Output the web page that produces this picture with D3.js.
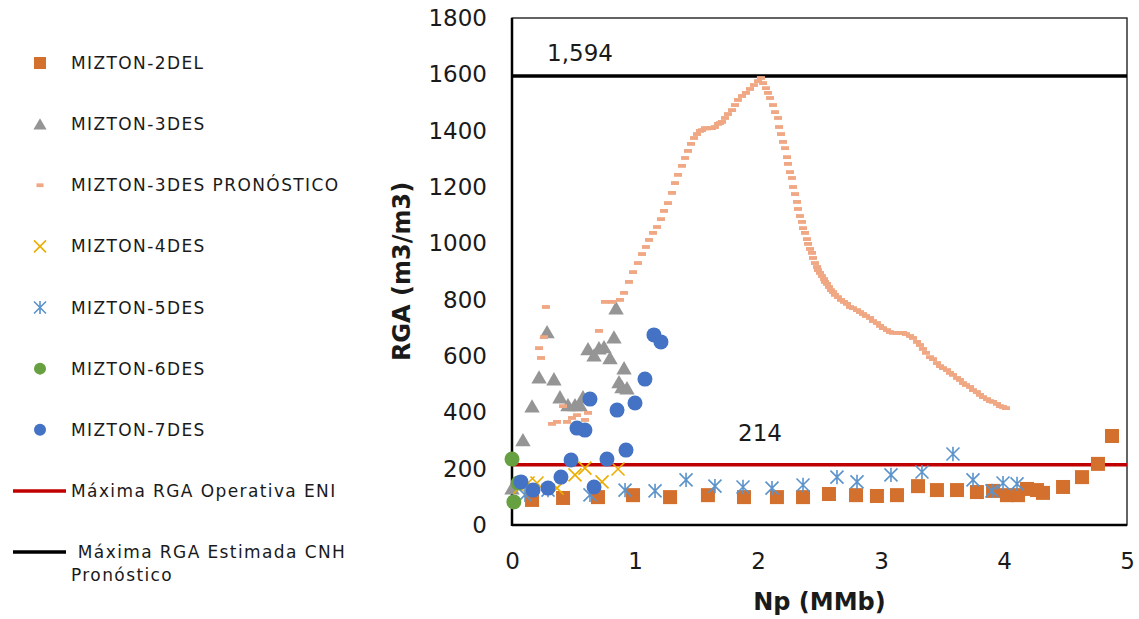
<!DOCTYPE html>
<html>
<head>
<meta charset="utf-8">
<script src="https://cdn.jsdelivr.net/npm/d3@7"></script>
<style>
body { margin: 0; background: #fff; }
text { font-family: "DejaVu Sans", sans-serif; fill: #1a1a1a; }
</style>
</head>
<body>
<svg id="chart"></svg>
<script>
// Np (MMb), RGA (m3/m3)
var mizton2DEL = [[0.163,89],[0.415,96],[0.699,99],[0.984,106],[1.285,99],[1.593,106],[1.886,99],[2.154,99],
  [2.366,99],[2.577,110],[2.797,106],[2.967,103],[3.130,106],[3.301,138],[3.455,124],[3.618,124],[3.780,117],
  [3.911,121],[4.024,106],[4.114,106],[4.187,128],[4.268,124],[4.317,114],[4.480,135],[4.634,170],[4.764,217],[4.878,316]];

var mizton3DES = [[0.0,131],[0.089,302],[0.163,422],[0.220,525],[0.285,685],[0.341,518],[0.390,454],[0.455,426],
  [0.512,426],[0.553,426],[0.577,454],[0.618,625],[0.667,603],[0.707,628],[0.748,632],[0.797,593],[0.829,667],
  [0.846,770],[0.870,508],[0.894,490],[0.911,557],[0.935,486]];

var mizton3DESPron = [[0.220,628],[0.236,593],[0.260,667],[0.276,774],[0.325,359],[0.366,366],[0.415,422],[0.447,366],
  [0.488,380],[0.528,390],[0.593,373],[0.618,398],[0.707,689],[0.756,792],[0.813,792],[0.878,799],[0.911,824],
  [0.951,863],[0.984,898],[1.024,930],[1.057,962],[1.089,987],[1.114,1012],[1.146,1037],[1.179,1058],[1.211,1086],
  [1.236,1115],[1.268,1143],[1.301,1179],[1.325,1214],[1.350,1243],[1.382,1275],[1.407,1303],[1.431,1328],
  [1.455,1353],[1.480,1374],[1.504,1388],[1.528,1399],[1.545,1402],[1.569,1409],[1.585,1408],[1.610,1409],
  [1.626,1409],[1.650,1413],[1.675,1424],[1.691,1427],[1.707,1431],[1.732,1445],[1.756,1459],[1.789,1473],
  [1.813,1491],[1.837,1509],[1.870,1523],[1.902,1534],[1.935,1548],[1.967,1562],[2.000,1576],[2.024,1587],
  [2.041,1569],[2.065,1551],[2.081,1534],[2.098,1516],[2.122,1491],[2.138,1466],[2.163,1445],[2.171,1413],
  [2.187,1388],[2.203,1360],[2.220,1338],[2.236,1306],[2.244,1282],[2.260,1253],[2.276,1232],[2.285,1200],
  [2.301,1175],[2.317,1147],[2.325,1122],[2.341,1097],[2.358,1076],[2.366,1054],[2.382,1037],[2.398,1015],
  [2.407,998],[2.423,980],[2.439,966],[2.447,948],[2.463,930],[2.480,916],
  [2.488,905],[2.504,895],[2.520,884],[2.537,873],[2.545,863],[2.561,856],[2.577,845],[2.593,834],[2.610,827],
  [2.626,817],[2.650,809],[2.675,799],[2.699,792],[2.724,785],[2.748,774],[2.772,770],[2.805,763],[2.829,756],
  [2.854,749],[2.878,742],[2.911,735],[2.935,724],[2.967,717],[2.992,707],[3.016,699],[3.049,692],[3.073,685],
  [3.098,682],[3.130,682],[3.154,682],[3.179,682],[3.203,678],[3.236,671],[3.260,664],[3.293,650],[3.317,639],
  [3.341,625],[3.366,611],[3.398,596],[3.423,589],[3.455,575],[3.480,564],[3.504,557],[3.537,550],[3.561,540],
  [3.585,533],[3.618,522],[3.642,515],[3.667,504],[3.691,497],[3.724,490],[3.748,479],[3.780,472],[3.805,462],
  [3.829,454],[3.862,447],[3.886,440],[3.911,437],[3.943,430],[3.967,422],[3.992,419],[4.016,415]];

var mizton4DES = [[0.065,135],[0.130,149],[0.203,149],[0.366,131],[0.512,178],[0.593,202],[0.732,153],[0.862,199]];

var mizton5DES = [[0.106,107],[0.293,124],[0.634,107],[0.919,124],[1.163,121],[1.415,160],[1.650,138],[1.878,135],
  [2.114,131],[2.366,142],[2.642,170],[2.805,153],[3.081,178],[3.333,188],[3.585,252],[3.748,160],[3.902,121],
  [3.992,149],[4.106,146]];

var mizton6DES = [[0.0,234],[0.05,149],[0.015,82]];

var mizton7DES = [[0.073,153],[0.171,124],[0.293,131],[0.398,170],[0.480,231],[0.528,344],[0.593,337],[0.634,447],
  [0.667,135],[0.772,234],[0.854,408],[0.927,266],[1.000,433],[1.081,518],[1.154,675],[1.211,650]];

var rgaOperativa = 214;
var rgaEstimada = 1594;

var xTicks = [0, 1, 2, 3, 4, 5];
var yTicks = [0, 200, 400, 600, 800, 1000, 1200, 1400, 1600, 1800];

var legendNames = ["MIZTON-2DEL", "MIZTON-3DES", "MIZTON-3DES PRONÓSTICO", "MIZTON-4DES", "MIZTON-5DES",
  "MIZTON-6DES", "MIZTON-7DES", "Máxima RGA Operativa ENI", "\u00a0Máxima RGA Estimada CNH"];

var width = 1139, height = 619;
var svg = d3.select("#chart").attr("width", width).attr("height", height);

var xScale = d3.scaleLinear().domain([0, 5]).range([512, 1127]);
var yScale = d3.scaleLinear().domain([0, 1800]).range([525, 18]);

// plot frame
svg.append("rect")
  .attr("x", xScale(0)).attr("y", yScale(1800))
  .attr("width", xScale(5) - xScale(0)).attr("height", yScale(0) - yScale(1800))
  .attr("fill", "none").attr("stroke", "#111").attr("stroke-width", 1.3);

var yAxis = d3.axisLeft(yScale).tickValues(yTicks).tickSize(0).tickPadding(25).tickFormat(d3.format("d"));
var gy = svg.append("g").attr("transform", "translate(" + xScale(0) + ",0)").call(yAxis);
gy.select(".domain").remove();
gy.selectAll("text").style("font-size", "23px").style("fill", "#1a1a1a").style("font-family", "DejaVu Sans");

var xAxis = d3.axisBottom(xScale).tickValues(xTicks).tickSize(0).tickPadding(28).tickFormat(d3.format("d"));
var gx = svg.append("g").attr("transform", "translate(0," + yScale(0) + ")").call(xAxis);
gx.select(".domain").remove();
gx.selectAll("text").style("font-size", "23px").style("fill", "#1a1a1a").style("font-family", "DejaVu Sans");

// thicker axis lines
svg.append("line").attr("x1", xScale(0)).attr("x2", xScale(0)).attr("y1", yScale(1800)).attr("y2", yScale(0) + 1)
  .attr("stroke", "#000").attr("stroke-width", 2.5);
svg.append("line").attr("x1", xScale(0)).attr("x2", xScale(5)).attr("y1", yScale(0)).attr("y2", yScale(0))
  .attr("stroke", "#000").attr("stroke-width", 2.5);

// axis titles
svg.append("text").attr("x", xScale(2.5)).attr("y", 610).attr("text-anchor", "middle")
  .style("font-size", "24px").style("font-weight", "bold").text("Np (MMb)");
svg.append("text").attr("transform", "translate(410," + yScale(900) + ") rotate(-90)").attr("text-anchor", "middle")
  .style("font-size", "24px").style("font-weight", "bold").text("RGA (m3/m3)");

// reference lines
svg.append("line").attr("x1", xScale(0)).attr("x2", xScale(5)).attr("y1", yScale(rgaEstimada)).attr("y2", yScale(rgaEstimada))
  .attr("stroke", "#000").attr("stroke-width", 3.5);
svg.append("line").attr("x1", xScale(0)).attr("x2", xScale(5)).attr("y1", yScale(rgaOperativa)).attr("y2", yScale(rgaOperativa))
  .attr("stroke", "#C00000").attr("stroke-width", 3.5);

svg.append("text").attr("x", 580).attr("y", 61).attr("text-anchor", "middle")
  .style("font-size", "23px").text(d3.format(",")(rgaEstimada));
svg.append("text").attr("x", 760).attr("y", 441).attr("text-anchor", "middle")
  .style("font-size", "23px").text(rgaOperativa);

// marker shapes
function markSquare(g, s, color) {
  g.append("rect").attr("x", -s / 2).attr("y", -s / 2).attr("width", s).attr("height", s).attr("fill", color);
}
function markTriangle(g, s, color) {
  g.append("path").attr("d", "M0," + (-s * 0.5) + "L" + (s * 0.55) + "," + (s * 0.45) + "L" + (-s * 0.55) + "," + (s * 0.45) + "Z")
    .attr("fill", color);
}
function markDash(g, s, color) {
  g.append("rect").attr("x", -s / 2).attr("y", -1.9).attr("width", s).attr("height", 3.8).attr("fill", color);
}
function markCross(g, s, color) {
  var h = s / 2;
  g.append("path").attr("d", "M" + (-h) + "," + (-h) + "L" + h + "," + h + "M" + h + "," + (-h) + "L" + (-h) + "," + h)
    .attr("stroke", color).attr("stroke-width", 1.6).attr("fill", "none");
}
function markStar(g, s, color) {
  var h = s / 2;
  g.append("path").attr("d", "M" + (-h) + "," + (-h) + "L" + h + "," + h + "M" + h + "," + (-h) + "L" + (-h) + "," + h +
      "M0," + (-h * 1.1) + "L0," + (h * 1.1))
    .attr("stroke", color).attr("stroke-width", 1.6).attr("fill", "none");
}
function markCircle(g, s, color) {
  g.append("circle").attr("r", s / 2).attr("fill", color);
}

var series = [
  { data: mizton2DEL, shape: markSquare, size: 14, color: "#D4702E" },
  { data: mizton3DES, shape: markTriangle, size: 14, color: "#959595" },
  { data: mizton3DESPron, shape: markDash, size: 8, color: "#F0A783" },
  { data: mizton4DES, shape: markCross, size: 13, color: "#EBAE00" },
  { data: mizton5DES, shape: markStar, size: 13, color: "#5B93CB" },
  { data: mizton6DES, shape: markCircle, size: 15, color: "#66A040" },
  { data: mizton7DES, shape: markCircle, size: 15, color: "#4472C4" }
];

series.forEach(function (s) {
  svg.append("g").selectAll("g").data(s.data).enter().append("g")
    .attr("transform", function (d) { return "translate(" + xScale(d[0]) + "," + yScale(d[1]) + ")"; })
    .each(function () { s.shape(d3.select(this), s.size, s.color); });
});

// legend
var legendY = d3.scaleLinear().domain([0, 8]).range([63, 552]);
var legendSizes = [12, 12, 7, 12, 12, 12, 12];
series.forEach(function (s, i) {
  var g = svg.append("g").attr("transform", "translate(40," + legendY(i) + ")");
  s.shape(g, legendSizes[i], s.color);
});
svg.append("line").attr("x1", 13).attr("x2", 66).attr("y1", legendY(7)).attr("y2", legendY(7))
  .attr("stroke", "#C00000").attr("stroke-width", 3.5);
svg.append("line").attr("x1", 13).attr("x2", 66).attr("y1", legendY(8)).attr("y2", legendY(8))
  .attr("stroke", "#000").attr("stroke-width", 3.5);

legendNames.forEach(function (name, i) {
  svg.append("text").attr("x", 71).attr("y", legendY(i) + 6)
    .style("font-size", "17px").style("letter-spacing", "1.4px").text(name);
});
svg.append("text").attr("x", 71).attr("y", legendY(8) + 29)
  .style("font-size", "17px").style("letter-spacing", "1.4px").text("Pronóstico");
</script>
</body>
</html>
